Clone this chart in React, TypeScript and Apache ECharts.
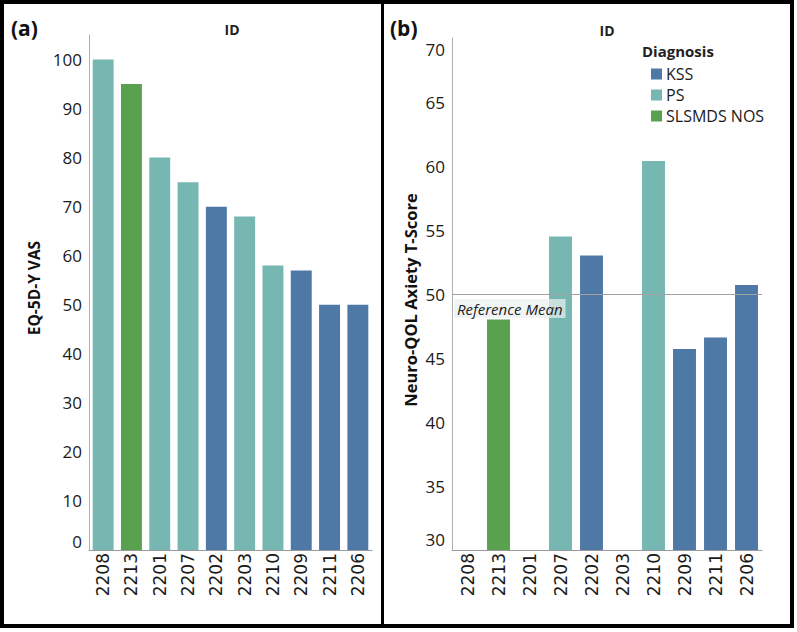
import React, { useEffect, useRef } from "react";
import * as echarts from "echarts";

const idsA = ["2208", "2213", "2201", "2207", "2202", "2203", "2210", "2209", "2211", "2206"];
const vasA = [100, 95, 80, 75, 70, 68, 58, 57, 50, 50];
const diagA = ["PS", "SLSMDS NOS", "PS", "PS", "KSS", "PS", "PS", "KSS", "KSS", "KSS"];

const idsB = ["2208", "2213", "2201", "2207", "2202", "2203", "2210", "2209", "2211", "2206"];
const anxB: (number | null)[] = [null, 48, null, 54.5, 53, null, 60.4, 45.7, 46.6, 50.7];
const diagB = ["PS", "SLSMDS NOS", "PS", "PS", "KSS", "PS", "PS", "KSS", "KSS", "KSS"];

const diagnoses = ["KSS", "PS", "SLSMDS NOS"];
const diagColors = ["#4e79a7", "#76b7b2", "#59a14f"];
const referenceMean = 50;

export default function App() {
  const ref = useRef<HTMLDivElement>(null);
  useEffect(() => {
    document.body.style.margin = "0";
    const chart = echarts.init(ref.current!, null, { renderer: "svg" });
    const tickFont = "'Open Sans', sans-serif";
    const xFont = "'DejaVu Sans', sans-serif";

    const mkSeries = (grid: number, vals: (number | null)[], diag: string[], withMark: boolean) =>
      diagnoses.map((d, i) => ({
        name: d,
        type: "bar",
        xAxisIndex: grid,
        yAxisIndex: grid,
        stack: "s" + grid,
        barCategoryGap: "26%",
        itemStyle: { color: diagColors[i] },
        data: vals.map((v, k) => (diag[k] === d && v != null ? v : "-")),
        markLine:
          withMark && i === 0
            ? {
                symbol: "none",
                silent: true,
                lineStyle: { color: "#a0a0a0", width: 1, type: "solid" },
                label: {
                  show: true,
                  position: "insideStartBottom",
                  formatter: "Reference Mean",
                  fontStyle: "italic",
                  fontFamily: tickFont,
                  fontSize: 15,
                  color: "#222",
                  backgroundColor: "rgba(235,240,240,0.7)",
                  padding: [2, 3, 2, 3],
                  distance: [2, 5],
                },
                data: [{ yAxis: referenceMean }],
              }
            : undefined,
      }));

    const xAxisCommon = {
      type: "category",
      axisTick: { show: false },
      axisLine: { lineStyle: { color: "#9a9a9a", width: 1 } },
      axisLabel: { rotate: 90, fontFamily: xFont, fontSize: 17, color: "#1a1a1a", margin: 3 },
    };

    const yAxisCommon = {
      type: "value",
      axisLine: { show: true, lineStyle: { color: "#b0b0b0", width: 1 } },
      axisTick: { show: false },
      splitLine: { show: false },
    };

    chart.setOption({
      animation: false,
      grid: [
        { left: 89, top: 35, width: 283, height: 515 },
        { left: 452, top: 38, width: 310, height: 512 },
      ],
      xAxis: [
        { ...xAxisCommon, gridIndex: 0, data: idsA },
        { ...xAxisCommon, gridIndex: 1, data: idsB },
      ],
      yAxis: [
        {
          ...yAxisCommon,
          gridIndex: 0,
          min: 0,
          max: 105,
          interval: 10,
          axisLabel: {
            showMaxLabel: false,
            margin: 7,
            fontFamily: tickFont,
            fontSize: 17,
            color: "#1a1a1a",
            formatter: (v: number) => (v === 0 ? "{lo|0}" : String(v)),
            rich: { lo: { fontFamily: tickFont, fontSize: 17, color: "#1a1a1a", padding: [0, 0, 18, 0] } },
          },
        },
        {
          ...yAxisCommon,
          gridIndex: 1,
          min: 30,
          max: 70,
          interval: 5,
          axisLabel: {
            margin: 7,
            fontFamily: tickFont,
            fontSize: 17,
            color: "#1a1a1a",
            formatter: (v: number) =>
              v === 30 ? "{lo|30}" : v === 70 ? "{hi|70}" : String(v),
            rich: {
              lo: { fontFamily: tickFont, fontSize: 17, color: "#1a1a1a", padding: [0, 0, 22, 0] },
              hi: { fontFamily: tickFont, fontSize: 17, color: "#1a1a1a", padding: [22, 0, 0, 0] },
            },
          },
        },
      ],
      legend: {
        data: diagnoses,
        orient: "vertical",
        left: 646,
        top: 61,
        icon: "rect",
        itemWidth: 11,
        itemHeight: 11,
        itemGap: 5,
        selectedMode: false,
        textStyle: { fontFamily: tickFont, fontSize: 16, color: "#1a1a1a", padding: [0, 0, 0, -1] },
      },
      graphic: [
        { type: "rect", shape: { x: 2, y: 2, width: 790, height: 624 }, style: { fill: "none", stroke: "#000", lineWidth: 4 } },
        { type: "line", shape: { x1: 382.5, y1: 2, x2: 382.5, y2: 626 }, style: { stroke: "#000", lineWidth: 3 } },
        { type: "text", x: 11, y: 28, style: { text: "(a)", font: "bold 21px 'Open Sans', sans-serif", fill: "#111", verticalAlign: "middle" } },
        { type: "text", x: 390, y: 28, style: { text: "(b)", font: "bold 21px 'Open Sans', sans-serif", fill: "#111", verticalAlign: "middle" } },
        { type: "text", x: 232, y: 29, style: { text: "ID", font: "bold 14px 'Open Sans', sans-serif", fill: "#222", align: "center", verticalAlign: "middle" } },
        { type: "text", x: 607, y: 30, style: { text: "ID", font: "bold 14px 'Open Sans', sans-serif", fill: "#222", align: "center", verticalAlign: "middle" } },
        { type: "text", x: 642, y: 51, style: { text: "Diagnosis", font: "bold 15px 'Open Sans', sans-serif", fill: "#222", verticalAlign: "middle" } },
        {
          type: "text",
          x: 34,
          y: 288,
          rotation: Math.PI / 2,
          style: { text: "EQ-5D-Y VAS", font: "bold 15.5px 'Open Sans', sans-serif", fill: "#111", align: "center", verticalAlign: "middle" },
        },
        {
          type: "text",
          x: 410,
          y: 300,
          rotation: Math.PI / 2,
          style: { text: "Neuro-QOL Axiety T-Score", font: "bold 16.5px 'Open Sans', sans-serif", fill: "#111", align: "center", verticalAlign: "middle" },
        },
      ],
      series: [...mkSeries(0, vasA, diagA, false), ...mkSeries(1, anxB, diagB, true)],
    });
    return () => chart.dispose();
  }, []);
  return <div ref={ref} style={{ width: 797, height: 632 }} />;
}
